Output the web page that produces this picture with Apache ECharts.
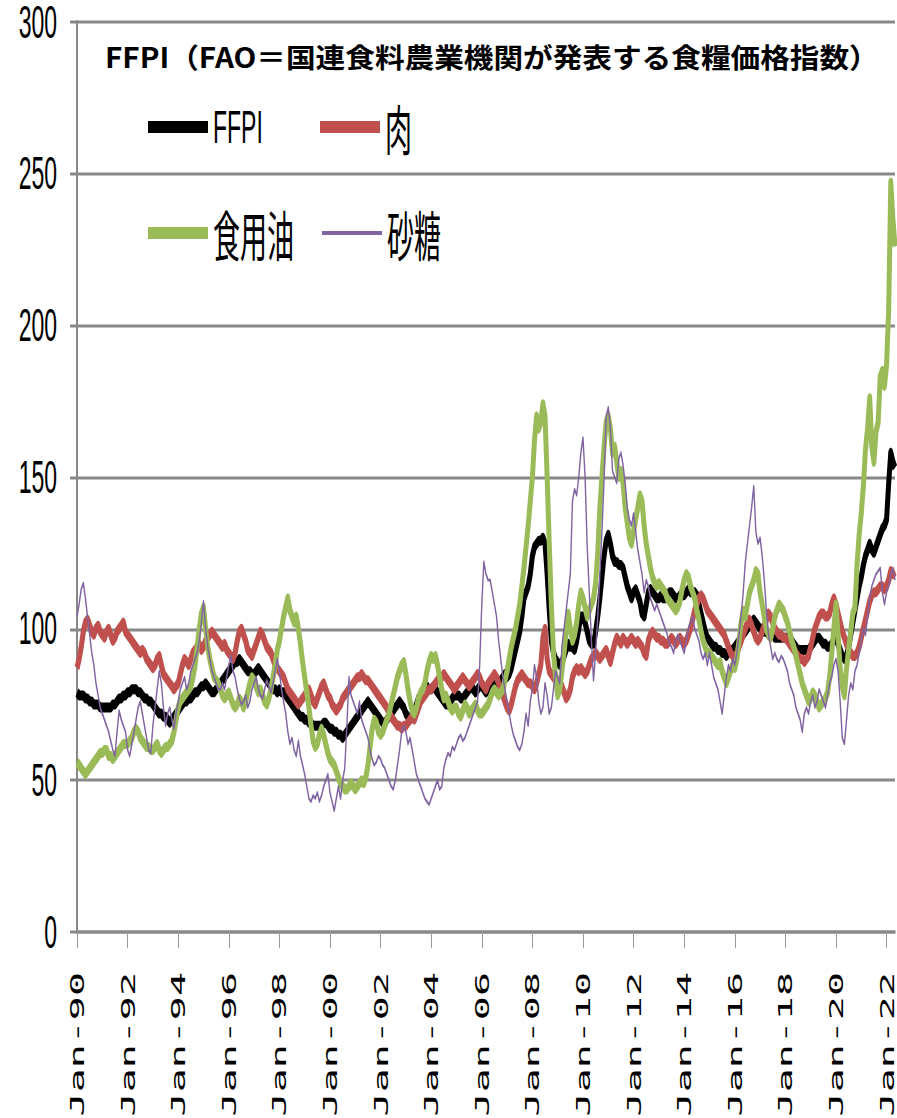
<!DOCTYPE html>
<html>
<head>
<meta charset="utf-8">
<script src="https://cdn.jsdelivr.net/npm/echarts@6/dist/echarts.min.js"></script>
<style>
  html, body { margin: 0; padding: 0; background: #fff; }
  #frame { width: 897px; height: 1118px; overflow: hidden; position: relative; }
  /* the chart is laid out at half height and stretched vertically */
  #chart { width: 897px; height: 559px; transform: scaleY(2); transform-origin: 0 0; }
</style>
</head>
<body>
<div id="frame"><div id="chart"></div></div>
<script>
// Monthly index values, Jan-1990 .. May-2022
const ffpi = [
  79,78,78,78,77,77,76,76,75,75,75,74,
  74,74,74,74,74,75,75,76,77,77,78,78,
  79,79,80,80,80,79,79,78,77,77,76,76,
  75,74,73,72,72,71,71,70,69,70,71,72,
  73,74,75,76,76,77,77,78,79,79,80,81,
  81,82,81,80,79,79,80,81,82,83,84,85,
  86,87,88,89,89,90,89,88,87,86,86,85,
  85,86,87,86,85,84,83,82,81,80,80,79,
  80,79,79,78,77,76,75,74,73,72,71,71,
  70,70,69,69,68,68,68,68,68,69,69,68,
  67,67,66,66,65,65,64,65,66,67,68,69,
  70,71,72,73,74,75,76,75,74,73,72,71,
  70,69,69,70,71,72,73,74,75,76,75,74,
  72,71,70,71,73,75,77,78,79,80,81,80,
  80,81,80,79,78,77,76,75,75,76,77,78,
  78,78,77,77,78,79,80,81,80,79,80,81,
  81,80,79,80,81,81,82,82,82,83,84,85,
  84,85,87,90,93,96,99,104,110,112,114,118,
  124,127,128,129,129,130,128,118,106,96,92,90,
  89,88,89,91,93,95,94,94,93,96,100,104,
  104,102,99,96,95,95,99,104,110,117,124,129,
  131,128,124,122,122,121,121,120,117,114,112,110,
  112,113,111,109,105,104,108,112,113,112,111,110,
  110,111,110,110,111,112,112,111,110,110,111,111,
  111,112,113,112,112,112,111,108,105,102,99,97,
  96,95,94,94,93,93,92,92,91,92,93,93,
  94,95,96,97,98,99,100,101,102,103,102,101,
  100,100,99,99,98,98,98,97,97,97,97,97,
  97,97,96,96,95,94,93,93,93,93,93,93,
  94,95,96,97,97,96,95,95,94,94,95,96,
  97,95,93,91,90,91,94,98,102,106,110,114,
  117,121,124,126,128,126,125,127,129,131,133,134,
  136,148,158,155,153
];

const meat = [
  87,90,94,99,102,103,101,99,98,100,101,99,
  98,97,99,100,98,96,97,99,100,101,102,99,
  98,97,96,95,94,93,92,93,92,90,89,88,
  87,88,90,91,88,85,84,83,82,81,80,81,
  82,85,88,90,89,88,90,92,93,94,95,93,
  94,96,97,98,99,98,97,96,95,94,95,93,
  92,91,90,92,96,99,100,98,96,93,92,91,
  93,95,97,99,98,96,94,93,92,90,88,87,
  86,85,84,82,80,79,78,77,76,75,76,77,
  78,79,80,78,76,75,77,79,81,82,80,78,
  77,75,74,73,74,75,77,78,79,80,81,82,
  83,84,84,85,84,83,83,82,81,80,79,78,
  77,76,75,74,72,71,70,69,68,68,67,68,
  68,69,70,71,70,72,74,76,77,78,79,80,
  80,81,82,83,84,84,85,84,83,82,81,80,
  81,82,83,84,83,82,81,82,83,84,85,84,
  82,81,80,82,83,84,85,84,82,80,78,76,
  74,73,75,78,81,83,84,85,84,83,82,82,
  81,80,82,85,88,97,100,90,86,85,84,83,
  83,82,81,79,77,78,80,84,86,87,86,87,
  86,85,86,88,90,91,92,91,90,91,92,93,
  91,89,92,95,97,96,95,97,96,95,96,97,
  96,95,96,95,94,92,91,96,98,99,98,97,
  97,96,96,95,95,96,97,96,95,96,97,96,
  95,96,98,100,103,106,108,110,111,110,108,106,
  105,104,103,102,101,100,99,98,96,94,92,91,
  90,92,94,96,98,100,102,103,101,99,97,96,
  97,99,101,103,105,104,102,100,99,98,98,97,
  97,96,95,94,93,92,91,90,90,89,90,91,
  94,97,100,102,104,105,105,104,104,105,108,110,
  108,105,102,99,97,95,93,92,91,91,92,94,
  97,100,103,106,109,111,112,112,113,114,114,113,
  114,116,119,118,119
];

const oils = [
  56,55,54,53,52,53,54,55,56,57,58,59,
  59,60,60,58,58,57,58,59,60,61,62,62,
  62,63,64,66,67,66,64,63,62,61,61,60,
  60,61,62,60,59,60,61,61,62,63,66,70,
  74,76,77,78,79,80,81,84,88,94,100,105,
  107,100,94,90,87,84,83,82,80,78,77,78,
  79,77,75,74,75,77,76,74,76,79,82,84,
  83,81,79,80,78,76,75,77,80,84,88,93,
  96,100,104,107,110,106,104,102,104,100,95,89,
  84,79,74,68,63,61,62,65,67,65,62,59,
  57,56,55,53,51,49,48,47,47,48,49,48,
  47,48,49,50,49,51,55,61,67,70,69,66,
  65,66,68,70,72,75,78,81,84,86,88,89,
  85,80,76,73,72,74,77,79,80,82,86,89,
  91,90,91,88,84,80,77,78,76,74,73,74,
  74,72,71,73,75,74,72,73,74,75,73,72,
  72,73,74,75,77,79,80,79,78,79,80,83,
  86,90,94,97,100,104,108,114,120,127,134,142,
  150,162,170,166,168,174,170,150,128,108,92,84,
  78,80,86,92,99,105,100,96,98,102,108,112,
  110,107,104,106,108,110,115,125,140,150,160,168,
  170,166,158,160,155,150,152,148,140,135,130,128,
  132,136,140,144,142,134,128,124,120,117,115,114,
  115,114,113,112,110,109,108,107,106,107,109,113,
  116,118,117,114,112,110,106,103,99,96,94,92,
  92,91,90,89,88,89,86,84,82,84,86,88,
  87,90,96,102,106,104,108,112,114,116,119,118,
  112,108,104,100,98,97,100,104,106,108,107,106,
  104,102,99,96,94,91,88,85,82,80,78,76,
  77,79,78,76,74,75,76,77,79,84,92,100,
  108,98,87,81,78,87,93,99,105,107,121,131,
  138,147,159,166,176,160,155,165,168,183,185,180,
  187,205,247,235,226
];

const sugar = [
  104,108,113,115,110,104,98,92,88,82,78,74,
  72,70,68,66,63,60,58,66,73,70,68,66,
  60,58,62,66,70,74,76,72,68,64,60,59,
  68,74,80,86,82,74,68,72,74,70,67,72,
  76,80,82,84,80,82,86,88,90,92,96,102,
  109,100,94,90,86,84,82,80,80,82,80,84,
  88,91,86,84,80,77,75,76,78,74,76,80,
  82,84,80,78,77,80,83,81,79,82,86,90,
  86,80,76,72,66,62,64,60,58,63,58,55,
  52,48,44,43,45,44,46,43,45,48,50,52,
  46,43,40,44,48,44,50,54,68,84,78,76,
  74,72,76,70,68,66,64,60,57,55,56,58,
  57,55,54,52,50,48,47,50,55,60,66,68,
  66,62,64,60,56,52,50,48,46,44,43,42,
  44,46,48,50,47,48,54,57,59,58,61,60,
  62,64,65,63,64,66,68,70,72,74,76,88,
  108,122,118,116,116,112,108,104,96,90,84,80,
  76,72,68,65,63,61,60,62,66,72,68,76,
  80,88,84,76,72,74,82,78,72,74,80,86,
  84,82,94,100,106,112,118,142,146,144,150,158,
  163,150,127,112,96,83,92,104,118,132,149,170,
  173,166,152,150,148,156,158,154,148,140,136,134,
  138,132,126,122,118,112,116,114,110,108,106,108,
  106,104,102,100,98,95,94,92,96,98,96,94,
  92,96,100,102,104,100,98,96,92,90,92,88,
  92,88,84,82,80,76,72,78,84,88,86,90,
  88,92,98,104,112,122,128,134,140,147,132,128,
  130,124,116,106,98,94,90,92,90,89,91,90,
  88,86,82,80,78,74,72,70,66,72,74,72,
  76,78,74,76,80,78,76,74,78,82,84,88,
  90,86,76,64,62,70,78,82,80,86,88,92,
  96,100,98,104,110,114,116,118,119,120,112,108,
  112,114,118,120,116
];

// Month labels "Jan-90" ... "May-22"
const monthNames = ['Jan','Feb','Mar','Apr','May','Jun','Jul','Aug','Sep','Oct','Nov','Dec'];
const categories = [];
for (let y = 1990; y <= 2022; y++) {
  for (let m = 0; m < 12; m++) {
    if (categories.length >= ffpi.length) break;
    categories.push(monthNames[m] + '-' + String(y).slice(2));
  }
}

const yTicks = [0, 50, 100, 150, 200, 250, 300];
const titleText = 'FFPI（FAO＝国連食料農業機関が発表する食糧価格指数）';
const seriesNames = ['FFPI', '肉', '食用油', '砂糖'];
const seriesColors = ['#000000', '#C0504D', '#9BBB59', '#8064A2'];

const LATIN = '"Liberation Sans", Arial, sans-serif';
const MONO = '"DejaVu Sans Mono", "Liberation Mono", monospace';
const CJK = '"Noto Sans CJK JP", "Noto Sans", sans-serif';

function legendAt(name, left, top, thick, size, family) {
  return {
    data: [name], left: left, top: top, padding: 0, orient: 'horizontal',
    icon: 'rect', itemWidth: 60, itemHeight: thick,
    textStyle: { color: '#000', fontSize: size, fontFamily: family }
  };
}

function lineSeries(name, data, color, width) {
  return {
    name: name, type: 'line', data: data, symbol: 'none', showSymbol: false,
    lineStyle: { color: color, width: width, join: 'round' },
    itemStyle: { color: color }, emphasis: { disabled: true }
  };
}

const chart = echarts.init(document.getElementById('chart'), null, { renderer: 'svg' });
chart.setOption({
  animation: false,
  backgroundColor: '#fff',
  grid: { left: 77, right: 2, top: 11, bottom: 93, containLabel: false, outerBoundsMode: 'none' },
  graphic: [{
    type: 'text', x: 105, y: 28, scaleX: 1.235, scaleY: 0.58,
    style: {
      text: titleText, fontSize: 24, fontWeight: 'bold', fontFamily: CJK, fill: '#000',
      textAlign: 'left', textVerticalAlign: 'middle', verticalAlign: 'middle'
    }
  }],
  legend: [
    legendAt(seriesNames[0], 148, 52, 6, 23, LATIN),
    legendAt(seriesNames[1], 320, 50, 6, 27, CJK),
    legendAt(seriesNames[2], 148, 103, 6, 27, CJK),
    legendAt(seriesNames[3], 322, 103, 2, 27, CJK)
  ],
  xAxis: {
    type: 'category', data: categories, boundaryGap: false,
    axisLine: { show: true, onZero: true, lineStyle: { color: '#888', width: 1.5 } },
    axisTick: { show: true, interval: 23, length: 8, inside: false, lineStyle: { color: '#999', width: 1 } },
    axisLabel: { interval: 23, rotate: 90, margin: 20, fontSize: 20, fontFamily: MONO, color: '#000' },
    splitLine: { show: false }
  },
  yAxis: {
    type: 'value', min: yTicks[0], max: yTicks[yTicks.length - 1], interval: 50,
    axisLine: { show: true, lineStyle: { color: '#888', width: 2 } },
    axisTick: { show: true, length: 7, lineStyle: { color: '#888', width: 1.5 } },
    splitLine: { show: true, lineStyle: { color: '#888', width: 1.5 } },
    axisLabel: { margin: 20, fontSize: 23, fontFamily: LATIN, color: '#000' }
  },
  series: [
    lineSeries(seriesNames[0], ffpi, seriesColors[0], 5),
    lineSeries(seriesNames[1], meat, seriesColors[1], 5),
    lineSeries(seriesNames[2], oils, seriesColors[2], 5),
    lineSeries(seriesNames[3], sugar, seriesColors[3], 1.4)
  ]
});
</script>
</body>
</html>
